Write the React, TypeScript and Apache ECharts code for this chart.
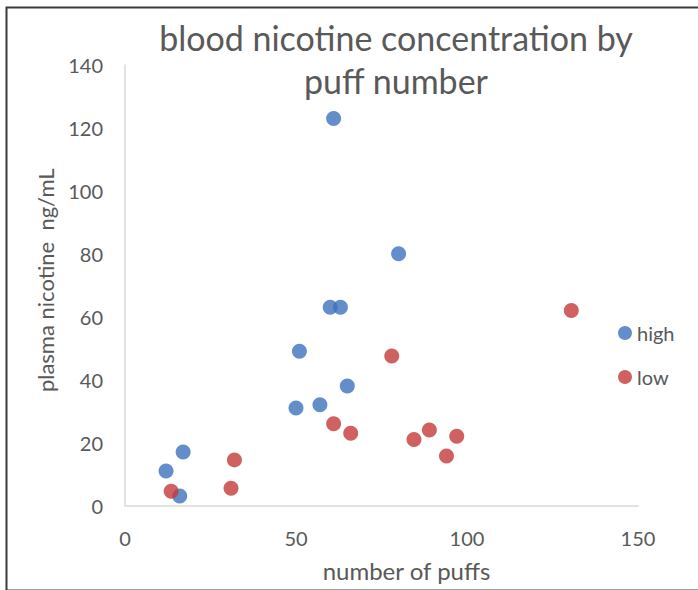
import React, { useEffect, useRef } from "react";
import * as echarts from "echarts";

// number of puffs (x) and plasma nicotine in ng/mL (y)
const highPuffs = [12, 17, 16, 61, 80, 60, 63, 51, 65, 50, 57];
const highNicotine = [11, 17, 3, 123, 80, 63, 63, 49, 38, 31, 32];

const lowPuffs = [13.5, 31, 32, 61, 66, 78, 84.5, 89, 94, 97, 130.5];
const lowNicotine = [4.5, 5.5, 14.5, 26, 23, 47.5, 21, 24, 15.7, 22, 62];

const titleLines = ["blood nicotine concentration by", "puff number"];
const xAxisTitle = "number of puffs";
const yAxisTitle = "plasma nicotine  ng/mL";

const BLUE = "#3d72bd";
const RED = "#c43a3a";
const TEXT = "#595959";
const FONT = "Lato, 'Open Sans', sans-serif";

const pairs = (xs: number[], ys: number[]) => xs.map((x, i) => [x, ys[i]]);

export default function App() {
  const ref = useRef<HTMLDivElement>(null);

  useEffect(() => {
    if (!ref.current) return;
    const chart = echarts.init(ref.current, undefined, { renderer: "svg" });
    chart.setOption({
      animation: false,
      backgroundColor: "#ffffff",
      textStyle: { fontFamily: FONT },
      title: {
        text: titleLines.join("\n"),
        left: 391,
        top: 11,
        textAlign: "center",
        textStyle: {
          fontFamily: FONT,
          fontSize: 34,
          fontWeight: "normal",
          color: TEXT,
          lineHeight: 43,
        },
      },
      legend: {
        orient: "vertical",
        left: 613,
        top: 318,
        itemGap: 24,
        itemWidth: 14,
        itemHeight: 14,
        icon: "circle",
        textStyle: { fontFamily: FONT, fontSize: 20, color: TEXT },
        data: ["high", "low"],
      },
      grid: { left: 125, right: 60, top: 65, bottom: 84.5 },
      xAxis: {
        type: "value",
        min: 0,
        max: 150,
        interval: 50,
        name: xAxisTitle,
        nameLocation: "middle",
        nameGap: 53,
        nameTextStyle: {
          fontFamily: FONT,
          fontSize: 24,
          color: TEXT,
          padding: [0, 0, 0, 50],
        },
        axisLine: { show: true, lineStyle: { color: "#d9d9d9", width: 1.5 } },
        axisTick: { show: false },
        splitLine: { show: false },
        axisLabel: { fontFamily: FONT, fontSize: 20, color: TEXT, margin: 22 },
      },
      yAxis: {
        type: "value",
        min: 0,
        max: 140,
        interval: 20,
        name: yAxisTitle,
        nameLocation: "middle",
        nameGap: 69,
        nameTextStyle: {
          fontFamily: FONT,
          fontSize: 22,
          color: TEXT,
          padding: [0, 0, 0, 10],
        },
        axisLine: { show: true, lineStyle: { color: "#d9d9d9", width: 1.5 } },
        axisTick: { show: false },
        splitLine: { show: false },
        axisLabel: { fontFamily: FONT, fontSize: 20, color: TEXT, margin: 22 },
      },
      graphic: [
        {
          type: "rect",
          left: 4,
          top: 5,
          shape: { x: 0, y: 0, width: 720, height: 583 },
          style: { fill: "none", stroke: "#3a3a3a", lineWidth: 2 },
          silent: true,
        },
      ],
      series: [
        {
          name: "high",
          type: "scatter",
          symbol: "circle",
          symbolSize: 15,
          itemStyle: { color: BLUE },
          data: pairs(highPuffs, highNicotine),
        },
        {
          name: "low",
          type: "scatter",
          symbol: "circle",
          symbolSize: 15,
          itemStyle: { color: RED },
          data: pairs(lowPuffs, lowNicotine),
        },
      ],
    });
    return () => chart.dispose();
  }, []);

  return (
    <div
      ref={ref}
      style={{ position: "absolute", left: 0, top: 0, width: 698, height: 590 }}
    />
  );
}
